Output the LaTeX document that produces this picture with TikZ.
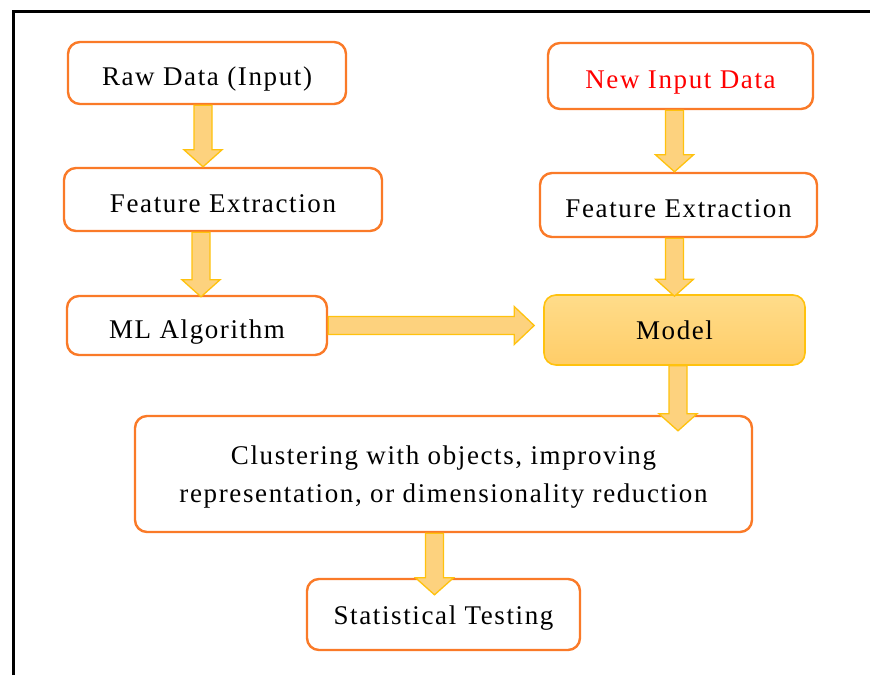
\documentclass[tikz,border=0pt]{standalone}
\usepackage{fontspec}
\setmainfont{Liberation Serif}[LetterSpace=6]
\usetikzlibrary{calc}

\definecolor{boxline}{HTML}{FA7A28}
\definecolor{arrowfill}{HTML}{FDD27E}
\definecolor{arrowline}{HTML}{FFC20E}
\definecolor{modeltop}{HTML}{FFDC8A}
\definecolor{modelbot}{HTML}{FFCD68}

% box text, lowered by #1 while keeping its size for centring
\newcommand{\lbl}[2][5pt]{\raisebox{-#1}[\height][\depth]{\begin{tabular}{@{}c@{}}#2\end{tabular}}}

\tikzset{
  stepbox/.style={draw=boxline, line width=2.4pt, rounded corners=12pt, fill=white,
    align=center, inner sep=0pt, font=\fontsize{27}{38}\selectfont},
  modelbox/.style={draw=arrowline, line width=1.6pt, rounded corners=12pt,
    top color=modeltop, bottom color=modelbot,
    align=center, inner sep=0pt, font=\fontsize{27}{38}\selectfont},
  blockarrow/.style={draw=arrowline, fill=arrowfill, line width=1.3pt, line join=miter},
}

% vertical block arrow: #1 source, #2 target, #3 x offset, #4 overlap into target
\newcommand{\varrow}[4]{%
  \draw[blockarrow] let \p1=($(#1.south)+(#3,0)$), \p2=($(#2.north)+(#3,#4)$) in
    (\x1-9pt,\y1) -- (\x1-9pt,\y2+17pt) -- (\x1-19pt,\y2+17pt) -- (\x1,\y2)
    -- (\x1+19pt,\y2+17pt) -- (\x1+9pt,\y2+17pt) -- (\x1+9pt,\y1) -- cycle;}

\begin{document}
\begin{tikzpicture}[x=1pt, y=-1pt]
  \useasboundingbox (0,0) rectangle (870,675);

  % outer frame (left and top edges)
  \draw[line width=3pt] (13,675) -- (13,11) -- (870,11);

  % left column
  \node[stepbox, minimum width=278pt, minimum height=62pt] (raw) at (207,73) {\lbl{Raw Data (Input)}};
  \node[stepbox, minimum width=318pt, minimum height=63pt] (fel) at (223,199.5) {\lbl{Feature Extraction}};
  \node[stepbox, minimum width=260pt, minimum height=59pt] (ml) at (197,325.5) {\lbl{ML Algorithm}};

  % right column
  \node[stepbox, minimum width=265pt, minimum height=66pt, text=red] (new) at (680.5,76) {\lbl{New Input Data}};
  \node[stepbox, minimum width=277pt, minimum height=64pt] (fer) at (678.5,205) {\lbl{Feature Extraction}};
  \node[modelbox, minimum width=261pt, minimum height=70pt] (model) at (674.5,330) {\lbl[2pt]{Model}};

  % lower part
  \node[stepbox, minimum width=617pt, minimum height=116pt] (clu) at (443.5,474)
    {\lbl[2pt]{Clustering with objects, improving\\representation, or dimensionality reduction}};
  \node[stepbox, minimum width=273pt, minimum height=71pt] (stat) at (443.5,614.5) {\lbl[2pt]{Statistical Testing}};

  % connectors
  \varrow{raw}{fel}{-4}{0}
  \varrow{fel}{ml}{-22}{2}
  \varrow{new}{fer}{-6}{0}
  \varrow{fer}{model}{-4}{2}
  \varrow{model}{clu}{3.5}{16}
  \varrow{clu}{stat}{-9}{17}

  % horizontal block arrow from the algorithm to the model
  \draw[blockarrow] let \p1=(ml.east), \p2=($(model.west)+(-9,0)$) in
    (\x1,\y1+9pt) -- (\x2-20pt,\y1+9pt) -- (\x2-20pt,\y1+19pt) -- (\x2,\y1)
    -- (\x2-20pt,\y1-19pt) -- (\x2-20pt,\y1-9pt) -- (\x1,\y1-9pt) -- cycle;
\end{tikzpicture}
\end{document}
